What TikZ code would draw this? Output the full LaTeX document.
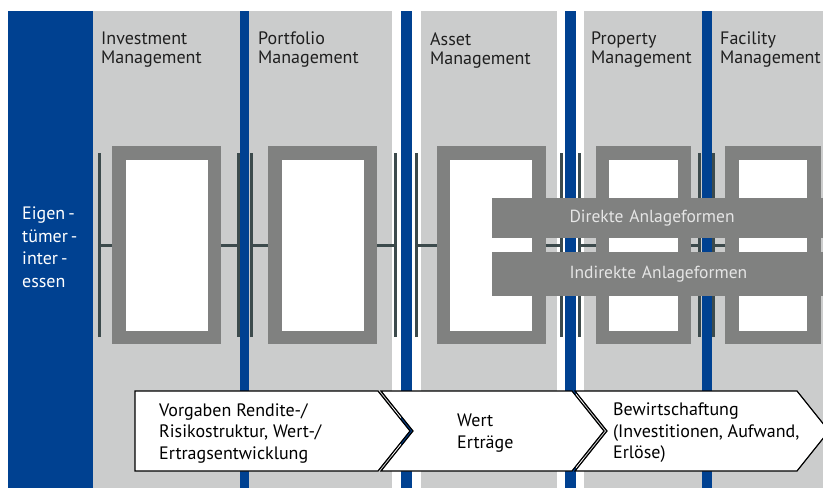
\documentclass[tikz,border=0pt]{standalone}
\usepackage{fontspec}
\setmainfont{PT Sans}
\usepackage{xcolor}
\usepackage{tikz}
\usetikzlibrary{arrows.meta, positioning}
\definecolor{hsblue}{RGB}{0,65,145}
\definecolor{colgray}{RGB}{203,204,204}
\definecolor{framegray}{RGB}{128,129,128}
\definecolor{linkgray}{RGB}{60,74,76}
\tikzset{
  colfill/.style={fill=colgray},
  bluestripe/.style={fill=hsblue},
  colhead/.style={
    anchor=north west, inner sep=0pt, align=left,
    font=\fontsize{18}{19}\selectfont, text=black!88
  },
  boxframe/.style={
    draw=framegray, fill=white, line width=13.5pt,
    inner sep=0pt, minimum width=95.5pt, minimum height=184.5pt
  },
  link/.style={
    draw=linkgray, line width=3pt,
    -{Bar[width=184pt, line width=3pt]}
  },
  formband/.style={
    fill=framegray, text=white!90!black,
    minimum width=331pt, text width=176pt, inner xsep=0pt,
    align=left, font=\fontsize{17.5}{20}\selectfont,
    execute at begin node={\hyphenpenalty=10000\hbadness=10000\hfuzz=40pt}
  },
  stage/.style={draw=black, fill=white, line width=1.2pt, line join=miter},
  stagetext/.style={
    anchor=north west, inner sep=0pt, align=left,
    font=\fontsize{18}{21.5}\selectfont
  },
}

\begin{document}
\begin{tikzpicture}[x=1pt, y=-1pt]
  \useasboundingbox (0,0) rectangle (823,488);
  \clip (0,0) rectangle (823,488);

  % columns and blue separators
  \fill [colfill] (93,11)  rectangle (392,488);
  \fill [colfill] (421,11) rectangle (557,488);
  \fill [colfill] (584,11) rectangle (823,488);
  \fill [bluestripe] (8,11)   rectangle (93,488);
  \fill [bluestripe] (240,11) rectangle (249,488);
  \fill [bluestripe] (401,11) rectangle (412,488);
  \fill [bluestripe] (565,11) rectangle (576,488);
  \fill [bluestripe] (702,11) rectangle (712,488);

  % headings
  \node (eigner) [colhead, text=white, font=\fontsize{18}{22.5}\selectfont]
        at (22,207) {Eigen\,-\\tümer\,-\\inter\,-\\essen};
  \node (invh)  [colhead] at (101,32) {Investment\\Management};
  \node (porth) [colhead] at (258,32) {Portfolio\\Management};
  \node (assh)  [colhead] at (430,32) {Asset\\Management};
  \node (proph) [colhead] at (591,32) {Property\\Management};
  \node (facih) [colhead] at (720,32) {Facility\\Management};

  % frames
  \node (f1) [boxframe] at (166.5,245) {};
  \node (f2) [boxframe] at (322.5,245) {};
  \node (f3) [boxframe] at (491,245) {};
  \node (f4) [boxframe, minimum width=82pt] at (643.5,245) {};
  \node (f5) [boxframe, minimum width=82pt] at (773,245) {};

  % bar ends of the links
  \coordinate (t0) at (97.5,245);
  \coordinate (t1) at (239.5,245);
  \coordinate (t2) at (249.5,245);
  \coordinate (t3) at (396.5,245);
  \coordinate (t4) at (414.5,245);
  \coordinate (t5) at (562.5,245);
  \coordinate (t6) at (577.5,245);
  \coordinate (t7) at (700.5,245);
  \coordinate (t8) at (711.5,245);

  \draw [link] (f1.west) -- (t0);
  \draw [link] (f1.east) -- (t1);
  \draw [link] (f2.west) -- (t2);
  \draw [link] (f2.east) -- (t3);
  \draw [link] (f3.west) -- (t4);
  \draw [link] (f3.east) -- (t5);
  \draw [link] (f4.west) -- (t6);
  \draw [link] (f4.east) -- (t7);
  \draw [link] (f5.west) -- (t8);

  % investment forms
  \node (direkt)   [formband, minimum height=40pt] at (657.5,218) {Direkte~Anlageformen};
  \node (indirekt) [formband, minimum height=44pt] at (657.5,274) {Indirekte~Anlageformen};

  % process chevrons
  \draw [stage] (135,391) -- (378,391) -- (410,431) -- (378,471) -- (135,471) -- cycle;
  \draw [stage] (381,391) -- (572,391) -- (604,431) -- (572,471) -- (381,471) -- (413,431) -- cycle;
  \draw [stage] (575,391) -- (797,391) -- (829,431) -- (797,471) -- (575,471) -- (607,431) -- cycle;

  \node (vorgaben) [stagetext] at (159,403) {Vorgaben Rendite-/\\Risikostruktur, Wert-/\\Ertragsentwicklung};
  \node (wert)     [stagetext] at (457,414) {Wert\\Erträge};
  \node (bewirt)   [stagetext] at (613,403) {Bewirtschaftung\\(Investitionen, Aufwand,\\Erlöse)};
\end{tikzpicture}
\end{document}
